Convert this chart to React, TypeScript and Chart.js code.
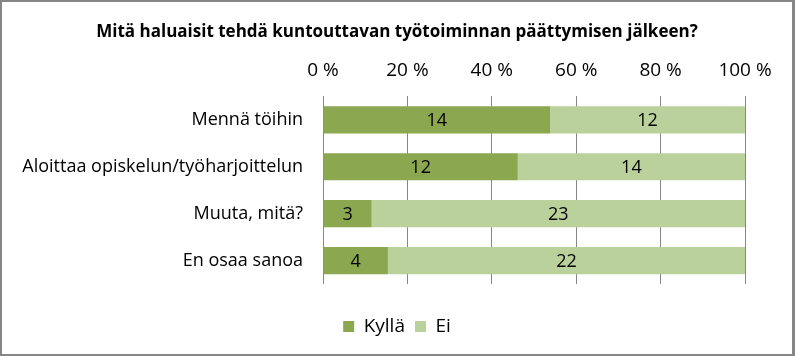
import React, { useEffect, useRef } from "react";
import { Chart, registerables } from "chart.js";

Chart.register(...registerables);

const chartTitle = "Mitä haluaisit tehdä kuntouttavan työtoiminnan päättymisen jälkeen?";
const categories = [
  "Mennä töihin",
  "Aloittaa opiskelun/työharjoittelun",
  "Muuta, mitä?",
  "En osaa sanoa",
];
const seriesNames = ["Kyllä", "Ei"];
const kylla = [14, 12, 3, 4];
const ei = [12, 14, 23, 22];
const tickValues = [0, 20, 40, 60, 80, 100];

const FONT = "'Open Sans', Lato, sans-serif";
const DARK = "#8BA74F";
const LIGHT = "#BBD19B";

const totals = categories.map((_, i) => kylla[i] + ei[i]);
const pct = (arr: number[]) => arr.map((v, i) => (v / totals[i]) * 100);

const countLabels = {
  id: "countLabels",
  afterDatasetsDraw(chart: any) {
    const ctx = chart.ctx;
    ctx.save();
    ctx.font = `18px ${FONT}`;
    ctx.fillStyle = "#000";
    ctx.textAlign = "center";
    ctx.textBaseline = "middle";
    chart.data.datasets.forEach((ds: any, di: number) => {
      const meta = chart.getDatasetMeta(di);
      meta.data.forEach((bar: any, i: number) => {
        const p = bar.getProps(["x", "y", "base"], true);
        ctx.fillText(String(ds.counts[i]), (p.x + p.base) / 2, p.y + 1);
      });
    });
    ctx.restore();
  },
};

export default function App() {
  const ref = useRef<HTMLCanvasElement>(null);
  useEffect(() => {
    document.body.style.margin = "0";
    const chart = new Chart(ref.current!, {
      type: "bar",
      data: {
        labels: categories,
        datasets: [
          {
            label: seriesNames[0],
            data: pct(kylla),
            counts: kylla,
            backgroundColor: DARK,
            barPercentage: 0.58,
            categoryPercentage: 1,
          } as any,
          {
            label: seriesNames[1],
            data: pct(ei),
            counts: ei,
            backgroundColor: LIGHT,
            barPercentage: 0.58,
            categoryPercentage: 1,
          } as any,
        ],
      },
      options: {
        indexAxis: "y",
        animation: false,
        responsive: true,
        maintainAspectRatio: false,
        layout: { padding: { left: 0, right: 0, top: 0, bottom: 8 } },
        scales: {
          x: {
            type: "linear",
            position: "top",
            stacked: true,
            min: 0,
            max: 100,
            afterBuildTicks(s: any) {
              s.ticks = tickValues.map((v) => ({ value: v }));
            },
            afterFit(s: any) {
              s.height = 48;
            },
            ticks: {
              padding: 14,
              color: "#000",
              font: { family: FONT, size: 19 },
              callback: (v: any) => `${v} %`,
            },
            grid: { color: "#868686", drawTicks: false },
            border: { display: false },
          },
          x2: {
            type: "linear",
            position: "bottom",
            min: 0,
            max: 100,
            ticks: { display: false },
            grid: { display: false },
            border: { display: false },
            afterFit(s: any) {
              s.height = 23;
            },
          },
          y: {
            stacked: true,
            afterFit(s: any) {
              s.width = 321;
            },
            ticks: {
              padding: 20,
              color: "#000",
              font: { family: FONT, size: 18 },
            },
            grid: { display: false, drawTicks: false },
            border: { display: false },
          },
          yR: {
            type: "linear",
            axis: "y",
            position: "right",
            min: 0,
            max: 1,
            ticks: { display: false },
            grid: { display: false, drawTicks: false },
            border: { display: false },
            afterFit(s: any) {
              s.width = 47;
            },
          },
        },
        plugins: {
          title: {
            display: true,
            text: chartTitle,
            color: "#000",
            font: { family: FONT, size: 17, weight: "bold" },
            padding: { top: 20, bottom: 6 },
          },
          legend: {
            position: "bottom",
            labels: {
              boxWidth: 11,
              boxHeight: 11,
              padding: 10,
              color: "#000",
              font: { family: FONT, size: 19 },
            },
          },
          tooltip: { enabled: false },
        },
      },
      plugins: [countLabels],
    } as any);
    return () => chart.destroy();
  }, []);
  return (
    <div
      style={{
        position: "absolute",
        left: 0,
        top: 0,
        width: 795,
        height: 356,
        boxSizing: "border-box",
        borderStyle: "solid",
        borderColor: "#868686",
        borderWidth: "2px 3px 2px 2px",
        background: "#fff",
      }}
    >
      <canvas ref={ref} />
    </div>
  );
}
